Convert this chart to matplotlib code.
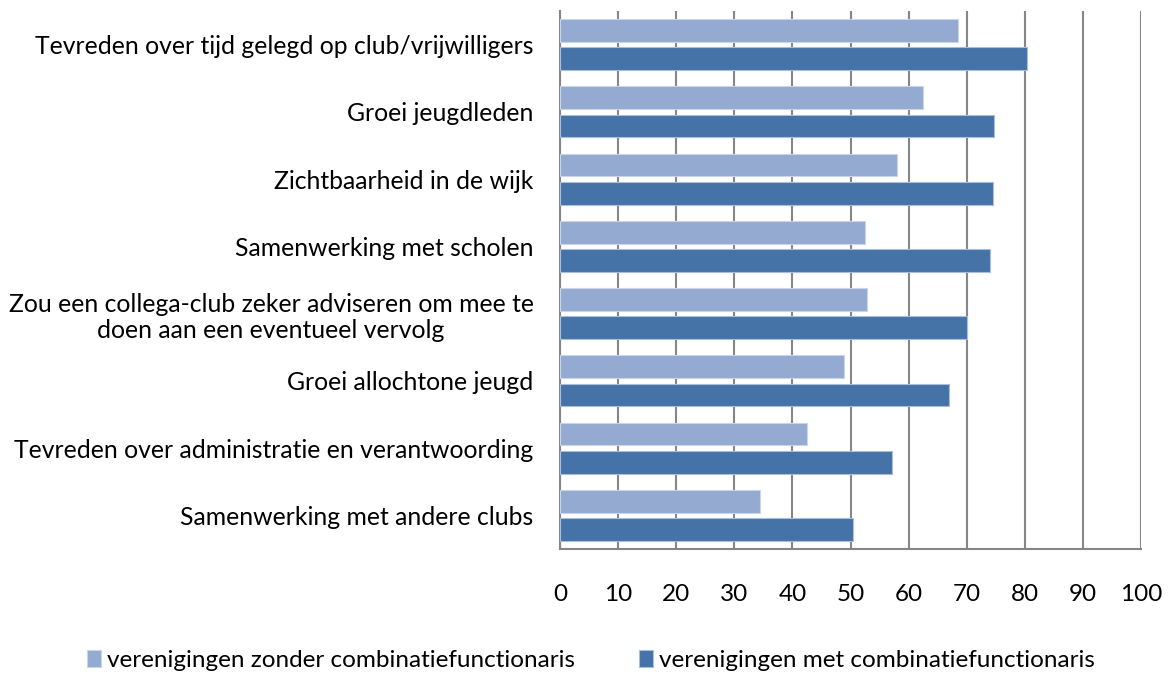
import matplotlib.pyplot as plt
import numpy as np

# categories from top to bottom
categories = [
    "Tevreden over tijd gelegd op club/vrijwilligers",
    "Groei jeugdleden",
    "Zichtbaarheid in de wijk",
    "Samenwerking met scholen",
    "Zou een collega-club zeker adviseren om mee te\ndoen aan een eventueel vervolg",
    "Groei allochtone jeugd",
    "Tevreden over administratie en verantwoording",
    "Samenwerking met andere clubs",
]
zonder = [68.5, 62.5, 58.0, 52.5, 52.9, 48.8, 42.5, 34.4]
met = [80.4, 74.7, 74.5, 74.0, 70.0, 66.9, 57.1, 50.5]
series_names = ["verenigingen zonder combinatiefunctionaris",
                "verenigingen met combinatiefunctionaris"]
xticks = list(range(0, 101, 10))

plt.rcParams['font.family'] = ['Lato', 'DejaVu Sans']

fig = plt.figure(figsize=(11.7, 6.78), dpi=100)
ax = fig.add_axes([560/1170, 1-549/678, 581/1170, 538/678])

y = np.arange(len(categories))
h = 0.34
ax.barh(y - 0.21, zonder, height=h, color='#95AAD1', edgecolor='#C9D5EA', linewidth=0.8,
        label=series_names[0], zorder=3)
ax.barh(y + 0.21, met, height=h, color='#4573A7', edgecolor='#A9BEDC', linewidth=0.8,
        label=series_names[1], zorder=3)

ax.set_ylim(len(categories) - 0.5, -0.5)
ax.set_xlim(0, 100)
ax.set_xticks(xticks)
ax.set_xticklabels([str(t) for t in xticks], fontsize=17.5)
ax.set_yticks(y)
ax.set_yticklabels(categories, fontsize=17.8, multialignment='center')
ax.tick_params(axis='x', length=0, pad=25)
ax.tick_params(axis='y', length=0, pad=19)

ax.xaxis.grid(True, color='#868686', linewidth=1.5, zorder=0)
for s in ['top', 'right']:
    ax.spines[s].set_visible(False)
for s in ['left', 'bottom']:
    ax.spines[s].set_color('#868686')
    ax.spines[s].set_linewidth(1.5)

fig.legend(loc='lower center', bbox_to_anchor=(0.505, -0.022), ncol=2, frameon=False,
           fontsize=17.5, handlelength=0.6, handleheight=0.7, handletextpad=0.25,
           columnspacing=2.6)

fig.savefig("out.png", dpi=100)
